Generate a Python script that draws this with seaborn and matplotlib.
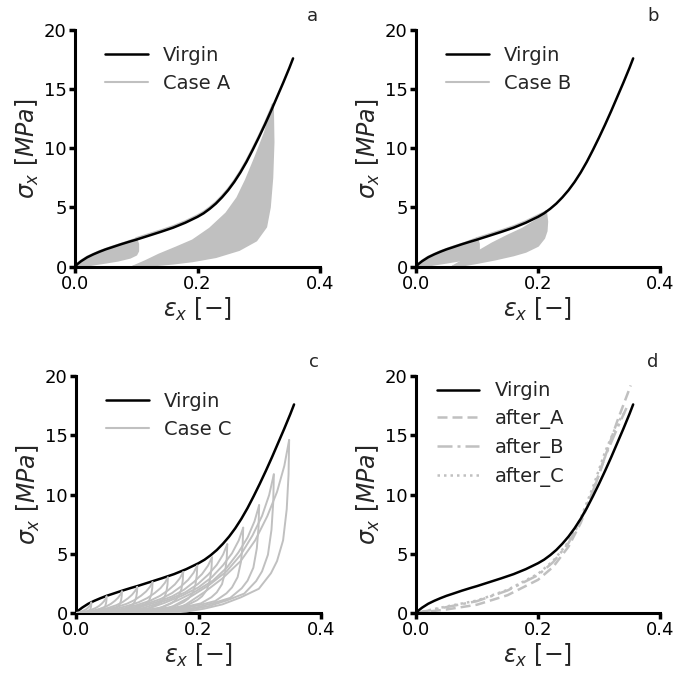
import numpy as np
import matplotlib
matplotlib.use("Agg")
import matplotlib.pyplot as plt
import seaborn as sns

# ---------------- data ----------------
virgin_eps = [0, 0.005, 0.01, 0.02, 0.03, 0.04, 0.05, 0.06, 0.075, 0.09, 0.1, 0.12, 0.14, 0.16, 0.18, 0.2,
              0.21, 0.22, 0.23, 0.24, 0.25, 0.26, 0.27, 0.28, 0.29, 0.30, 0.31, 0.32, 0.33, 0.34, 0.35, 0.356]
virgin_sig = [0, 0.25, 0.45, 0.78, 1.03, 1.25, 1.45, 1.62, 1.88, 2.12, 2.27, 2.6, 2.93, 3.28, 3.7, 4.2,
              4.5, 4.88, 5.32, 5.85, 6.45, 7.15, 7.95, 8.85, 9.85, 10.9, 12.0, 13.15, 14.35, 15.55, 16.8, 17.6]

# Case A: cycles to eps=0.1, then cycles to eps=0.323
a_small_load_eps = [0, 0.01, 0.02, 0.04, 0.06, 0.08, 0.1]
a_small_load_sig = [0, 0.5, 0.83, 1.3, 1.67, 2.0, 2.35]
a_small_unload_eps = [0.1, 0.103, 0.103, 0.1, 0.09, 0.07, 0.05, 0.03, 0.012, 0]
a_small_unload_sig = [2.35, 1.9, 1.3, 1.0, 0.75, 0.5, 0.33, 0.17, 0.0, 0]
a_load_eps = [0.1, 0.12, 0.14, 0.16, 0.18, 0.2, 0.21, 0.22, 0.23, 0.24, 0.25, 0.26, 0.27, 0.28, 0.29, 0.30, 0.31, 0.323]
a_load_sig = [2.4, 2.73, 3.06, 3.41, 3.83, 4.33, 4.63, 5.01, 5.45, 5.98, 6.58, 7.28, 8.08, 8.98, 9.98, 11.03, 12.13, 13.7]
a_reload_eps = [0.095, 0.115, 0.137, 0.165, 0.192, 0.22, 0.247, 0.265, 0.279, 0.295, 0.31, 0.323]
a_reload_sig = [0, 0.45, 1.0, 1.6, 2.2, 3.2, 4.5, 5.8, 7.3, 9.3, 11.3, 13.7]
a_unload_eps = [0.323, 0.324, 0.322, 0.318, 0.312, 0.296, 0.268, 0.23, 0.192, 0.16, 0.137, 0.115, 0.095]
a_unload_sig = [13.7, 10.5, 7.5, 5.0, 3.35, 2.2, 1.4, 0.8, 0.45, 0.25, 0.14, 0.05, 0]

# Case B: cycles to eps=0.1, then cycles to eps=0.213
b_small_load_eps = [0, 0.01, 0.02, 0.04, 0.06, 0.08, 0.1]
b_small_load_sig = [0, 0.5, 0.83, 1.3, 1.67, 2.0, 2.4]
b_small_unload_eps = [0.1, 0.103, 0.103, 0.1, 0.09, 0.07, 0.05, 0.03, 0.012, 0]
b_small_unload_sig = [2.4, 1.9, 1.35, 1.0, 0.75, 0.5, 0.33, 0.17, 0.0, 0]
b_load_eps = [0.1, 0.12, 0.14, 0.16, 0.18, 0.2, 0.213]
b_load_sig = [2.4, 2.73, 3.06, 3.41, 3.83, 4.33, 4.65]
b_reload_eps = [0.06, 0.08, 0.1, 0.125, 0.15, 0.175, 0.2, 0.213]
b_reload_sig = [0, 0.6, 1.2, 1.95, 2.6, 3.2, 4.0, 4.65]
b_unload_eps = [0.213, 0.215, 0.214, 0.21, 0.2, 0.18, 0.16, 0.13, 0.1, 0.08, 0.06]
b_unload_sig = [4.65, 3.8, 3.0, 2.4, 1.75, 1.25, 0.95, 0.6, 0.3, 0.12, 0]

# Case C: progressively increasing cycles (peak, residual strain)
c_peak_eps = [0.025, 0.05, 0.075, 0.1, 0.125, 0.15, 0.175, 0.198, 0.222, 0.247, 0.273, 0.299, 0.323, 0.348]
c_peak_sig = [0.88, 1.4, 1.82, 2.2, 2.6, 3.0, 3.45, 4.0, 4.7, 5.8, 7.2, 9.1, 11.7, 14.6]
c_resid_eps = [0.0, 0.005, 0.01, 0.015, 0.02, 0.03, 0.04, 0.05, 0.06, 0.075, 0.09, 0.11, 0.13, 0.15]
# normalised loop shape read from the largest loop (strain fraction, stress fraction)
c_reload_u = [0, 0.15, 0.3, 0.45, 0.6, 0.72, 0.82, 0.9, 0.96, 1.0]
c_reload_s = [0, 0.05, 0.12, 0.2, 0.3, 0.42, 0.56, 0.7, 0.85, 1.0]
c_unload_u = [1.0, 0.995, 0.98, 0.95, 0.9, 0.85, 0.75, 0.6, 0.45, 0.3, 0.15, 0.0]
c_unload_s = [1.0, 0.8, 0.6, 0.42, 0.3, 0.23, 0.14, 0.09, 0.05, 0.025, 0.008, 0.0]

# Panel d: reloading after each case
d_eps_A = [0, 0.05, 0.1, 0.15, 0.2, 0.225, 0.25, 0.27, 0.29, 0.31, 0.33, 0.352]
d_sig_A = [0, 0.3, 0.7, 1.5, 2.8, 3.9, 5.6, 7.6, 10.2, 13.2, 16.2, 19.2]
d_eps_B = [0, 0.05, 0.1, 0.15, 0.2, 0.225, 0.25, 0.27, 0.29, 0.31, 0.33, 0.345]
d_sig_B = [0, 0.5, 1.0, 1.9, 3.2, 4.3, 5.9, 7.8, 10.3, 13.2, 15.6, 17.3]
d_eps_C = [0, 0.05, 0.1, 0.15, 0.2, 0.225, 0.25, 0.27, 0.29, 0.31, 0.33, 0.343]
d_sig_C = [0, 0.55, 1.05, 1.95, 3.3, 4.4, 6.0, 8.0, 10.6, 13.6, 16.0, 17.0]

panel_letters = ["a", "b", "c", "d"]
case_labels = ["Case A", "Case B", "Case C"]
after_labels = ["after_A", "after_B", "after_C"]

# ---------------- styling ----------------
sns.set_style("ticks")
plt.rcParams["font.family"] = ["DejaVu Sans"]
plt.rcParams["mathtext.fontset"] = "dejavusans"

GRAY = "#c0c0c0"
BLACK = "black"

fig = plt.figure(figsize=(6.78, 6.78), dpi=100)
W, H = 678.0, 678.0
boxes = [(75, 266.5, 320, 30), (416, 266.5, 660, 30), (76, 613, 321, 376), (416, 613, 660, 376)]
axes = []
for (l, b, r, t) in boxes:
    axes.append(fig.add_axes([l / W, 1 - b / H, (r - l) / W, (b - t) / H]))


def line(ax, x, y, **kw):
    sns.lineplot(x=np.asarray(x), y=np.asarray(y), ax=ax, sort=False, estimator=None, **kw)


def loop_fill(ax, re, rs, ue, us):
    ax.fill(np.r_[re, ue], np.r_[rs, us], color=GRAY, lw=0, zorder=2)


# panel a
ax = axes[0]
loop_fill(ax, a_small_load_eps, a_small_load_sig, a_small_unload_eps, a_small_unload_sig)
line(ax, a_small_load_eps, a_small_load_sig, color=GRAY, lw=1.5, zorder=2)
line(ax, a_small_unload_eps, a_small_unload_sig, color=GRAY, lw=1.5, zorder=2)
line(ax, a_load_eps, a_load_sig, color=GRAY, lw=1.5, zorder=2)
loop_fill(ax, a_reload_eps, a_reload_sig, a_unload_eps, a_unload_sig)
line(ax, a_reload_eps, a_reload_sig, color=GRAY, lw=1.5, zorder=2)
line(ax, a_unload_eps, a_unload_sig, color=GRAY, lw=1.5, zorder=2)
line(ax, virgin_eps, virgin_sig, color=BLACK, lw=1.8, zorder=3, label="Virgin")
ax.plot([], [], color=GRAY, lw=1.5, label=case_labels[0])

# panel b
ax = axes[1]
loop_fill(ax, b_small_load_eps, b_small_load_sig, b_small_unload_eps, b_small_unload_sig)
line(ax, b_small_load_eps, b_small_load_sig, color=GRAY, lw=1.5, zorder=2)
line(ax, b_small_unload_eps, b_small_unload_sig, color=GRAY, lw=1.5, zorder=2)
line(ax, b_load_eps, b_load_sig, color=GRAY, lw=1.5, zorder=2)
loop_fill(ax, b_reload_eps, b_reload_sig, b_unload_eps, b_unload_sig)
line(ax, b_reload_eps, b_reload_sig, color=GRAY, lw=1.5, zorder=2)
line(ax, b_unload_eps, b_unload_sig, color=GRAY, lw=1.5, zorder=2)
line(ax, virgin_eps, virgin_sig, color=BLACK, lw=1.8, zorder=3, label="Virgin")
ax.plot([], [], color=GRAY, lw=1.5, label=case_labels[1])

# panel c
ax = axes[2]
line(ax, virgin_eps, virgin_sig, color=BLACK, lw=1.8, zorder=2, label="Virgin")
ru, rs = np.asarray(c_reload_u), np.asarray(c_reload_s)
uu, us = np.asarray(c_unload_u), np.asarray(c_unload_s)
for pe, ps, r0 in zip(c_peak_eps, c_peak_sig, c_resid_eps):
    line(ax, r0 + (pe - r0) * ru, ps * rs, color=GRAY, lw=1.4, zorder=3)
    line(ax, r0 + (pe - r0) * uu, ps * us, color=GRAY, lw=1.4, zorder=3)
ax.plot([], [], color=GRAY, lw=1.5, label=case_labels[2])

# panel d
ax = axes[3]
line(ax, virgin_eps, virgin_sig, color=BLACK, lw=1.8, zorder=3, label="Virgin")
line(ax, d_eps_A, d_sig_A, color=GRAY, lw=1.8, ls=(0, (4, 2)), zorder=2, label=after_labels[0])
line(ax, d_eps_B, d_sig_B, color=GRAY, lw=1.8, ls=(0, (6, 2, 1.2, 2)), zorder=2, label=after_labels[1])
line(ax, d_eps_C, d_sig_C, color=GRAY, lw=1.8, ls=(0, (1, 1.6)), zorder=2, label=after_labels[2])

leg_anchor = [(0.09, 0.965), (0.09, 0.965), (0.09, 0.965), (0.053, 1.01)]
for ax, letter, anc in zip(axes, panel_letters, leg_anchor):
    ax.set_xlim(0, 0.4)
    ax.set_ylim(0, 20)
    ax.set_xticks([0.0, 0.2, 0.4])
    ax.set_xticklabels(["0.0", "0.2", "0.4"])
    ax.set_yticks([0, 5, 10, 15, 20])
    sns.despine(ax=ax)
    for sp in ["left", "bottom"]:
        ax.spines[sp].set_linewidth(2.2)
        ax.spines[sp].set_color("black")
    ax.tick_params(direction="out", length=4, width=2.5, labelsize=13, pad=2, colors="black")
    ax.set_xlabel(r"$\varepsilon_x\ [-]$", fontsize=17, labelpad=2)
    ax.set_ylabel(r"$\sigma_x\ [MPa]$", fontsize=17, labelpad=2)
    ax.text(0.97, 1.06, letter, transform=ax.transAxes, fontsize=13, ha="center", va="center")
    ax.legend(loc="upper left", bbox_to_anchor=anc, borderaxespad=0, frameon=False,
              fontsize=14, handlelength=2.2, handletextpad=0.8, labelspacing=0.45)

fig.savefig("out.png", dpi=100)
